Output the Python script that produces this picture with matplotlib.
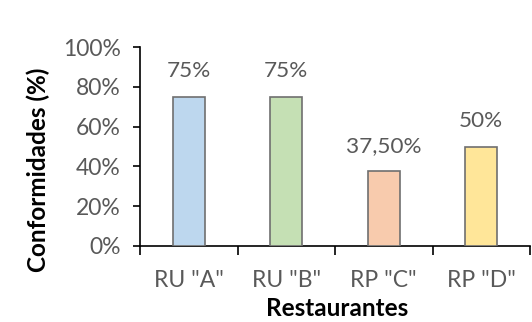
import matplotlib
matplotlib.use("Agg")
import matplotlib.pyplot as plt
from matplotlib.ticker import PercentFormatter

categories = ['RU "A"', 'RU "B"', 'RP "C"', 'RP "D"']
values = [75, 75, 37.5, 50]
colors = ['#BDD7EE', '#C5E0B4', '#F8CBAD', '#FFE699']
yticks = [0, 20, 40, 60, 80, 100]

plt.rcParams['font.family'] = ['Lato', 'DejaVu Sans']
GRAY = '#595959'

W, H = 532, 322
fig = plt.figure(figsize=(W / 100, H / 100), dpi=100)
ax = fig.add_axes([140 / W, 1 - 246 / H, (530 - 140) / W, (246 - 47) / H])

n = len(categories)
x = list(range(n))
ax.bar(x, values, width=0.33, color=colors, edgecolor='#6F6F6F', linewidth=1.2, zorder=3)

def fmt(v):
    if float(v).is_integer():
        return f"{int(v)}%"
    return f"{v:.2f}".replace('.', ',') + "%"

for xi, v in zip(x, values):
    ax.annotate(fmt(v), (xi, v), xytext=(0, 18.5), textcoords='offset points',
                ha='center', va='center', color=GRAY, fontsize=16.2)

ax.set_xlim(-0.5, n - 0.5)
ax.set_ylim(0, 100)
ax.set_yticks(yticks)
ax.yaxis.set_major_formatter(PercentFormatter(xmax=100, decimals=0))

ax.set_xticks([i - 0.5 for i in range(n + 1)])
ax.set_xticklabels([])
ax.set_xticks(x, minor=True)
ax.set_xticklabels(categories, minor=True)

ax.tick_params(axis='y', direction='out', length=5, width=1.2, pad=9,
               labelsize=16.5, labelcolor=GRAY, color='#000000')
ax.tick_params(axis='x', which='major', direction='out', length=6.5, width=1.2, color='#000000')
ax.tick_params(axis='x', which='minor', length=0, pad=17, labelsize=16.5, labelcolor=GRAY)

for s in ['top', 'right']:
    ax.spines[s].set_visible(False)
for s in ['left', 'bottom']:
    ax.spines[s].set_linewidth(1.2)
    ax.spines[s].set_color('#000000')

fig.text(337 / W, 1 - 309 / H, 'Restaurantes', ha='center', va='center',
         fontsize=17.5, fontweight='bold', color='#000000')
fig.text(38 / W, 1 - 170 / H, 'Conformidades (%)', ha='center', va='center',
         rotation=90, fontsize=17.5, fontweight='bold', color='#000000')

fig.savefig('out.png', dpi=100)
